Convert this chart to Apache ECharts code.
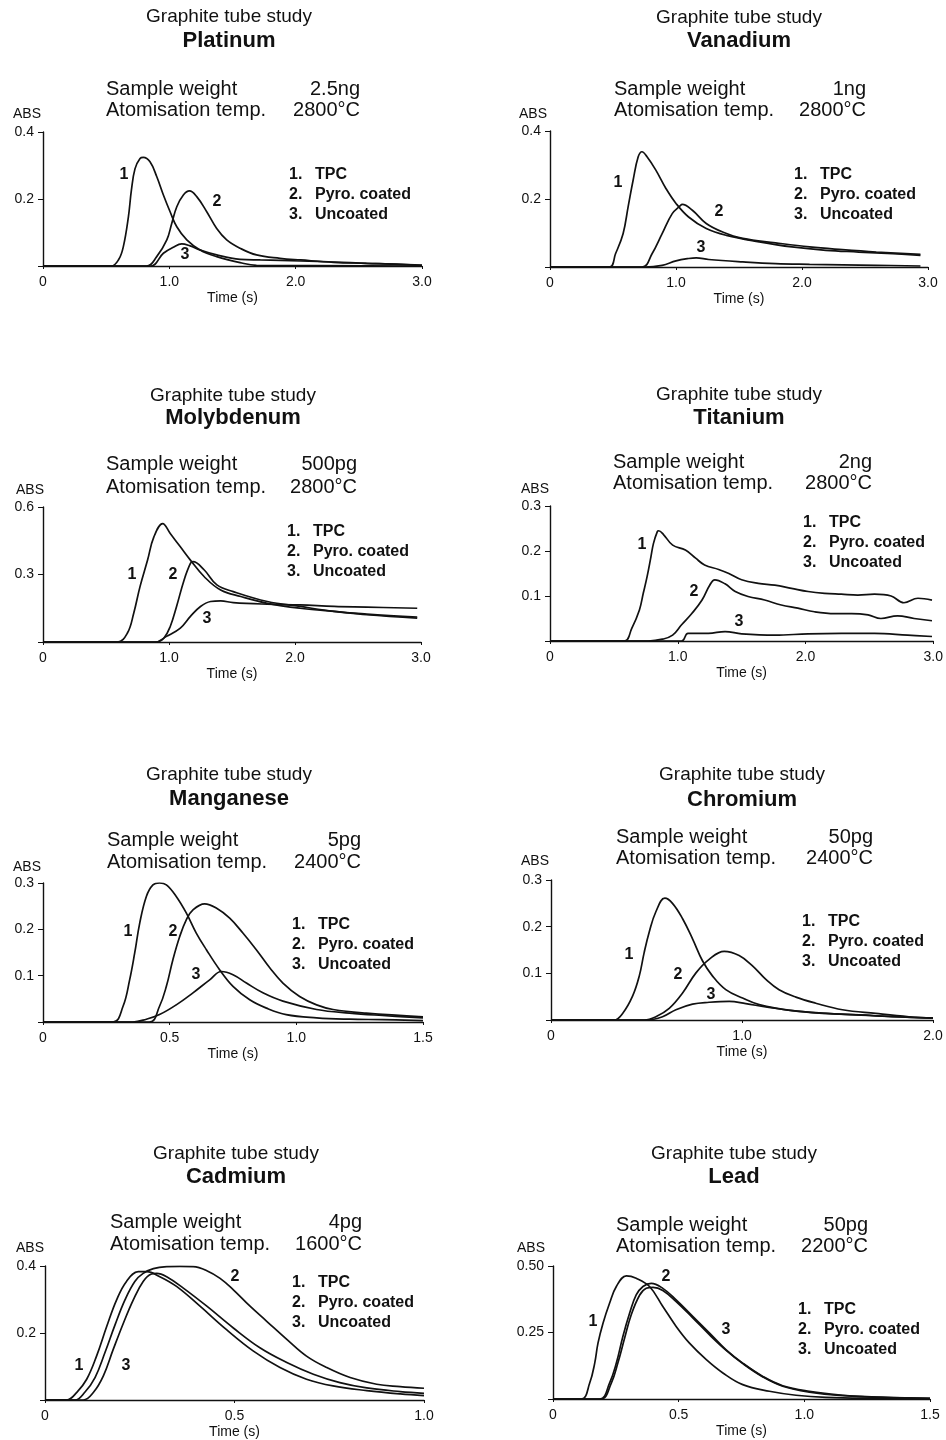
<!DOCTYPE html>
<html>
<head>
<meta charset="utf-8">
<script src="https://cdn.jsdelivr.net/npm/echarts/dist/echarts.min.js"></script>
<style>
html, body { margin: 0; padding: 0; background: #fff; }
#chart { width: 946px; height: 1440px; }
</style>
</head>
<body>
<div id="chart"></div>
<script>
var elements = ['Platinum', 'Vanadium', 'Molybdenum', 'Titanium', 'Manganese', 'Chromium', 'Cadmium', 'Lead'];
var weights = ['2.5ng', '1ng', '500pg', '2ng', '5pg', '50pg', '4pg', '50pg'];
var temps = ['2800°C', '2800°C', '2800°C', '2800°C', '2400°C', '2400°C', '1600°C', '2200°C'];
var legendLabels = ['TPC', 'Pyro. coated', 'Uncoated'];
var xMax = [3, 3, 3, 3, 1.5, 2, 1, 1.5];
var xStep = [1, 1, 1, 1, 0.5, 1, 0.5, 0.5];
var yMax = [0.4, 0.4, 0.6, 0.3, 0.3, 0.3, 0.4, 0.5];
var yStep = [0.2, 0.2, 0.3, 0.1, 0.1, 0.1, 0.2, 0.25];
var yDigits = [1, 1, 1, 1, 1, 1, 1, 2];

// Platinum
var ptTpc = [[0,0],[0.54,0],[0.6,0.02],[0.636,0.058],[0.676,0.147],[0.70,0.227],[0.728,0.29],[0.768,0.321],[0.794,0.324],[0.847,0.311],[0.90,0.267],[0.953,0.212],[1.006,0.162],[1.059,0.117],[1.138,0.078],[1.243,0.048],[1.375,0.028],[1.56,0.01],[1.69,0.002],[3.0,0]];
var ptPyro = [[0,0],[0.82,0],[0.90,0.028],[0.98,0.078],[1.019,0.127],[1.059,0.177],[1.111,0.212],[1.159,0.224],[1.217,0.207],[1.296,0.162],[1.375,0.112],[1.454,0.078],[1.56,0.053],[1.69,0.033],[1.876,0.023],[2.04,0.018],[2.30,0.011],[2.56,0.008],[2.83,0.005],[3.0,0.001]];
var ptUnc = [[0,0],[0.85,0],[0.953,0.038],[1.032,0.056],[1.098,0.066],[1.164,0.06],[1.243,0.048],[1.375,0.033],[1.56,0.02],[1.72,0.018],[2.04,0.015],[2.30,0.012],[2.56,0.008],[3.0,0.003]];

// Vanadium
var vTpc = [[0,0],[0.47,0],[0.52,0.039],[0.58,0.098],[0.62,0.177],[0.66,0.256],[0.70,0.324],[0.73,0.339],[0.77,0.324],[0.84,0.285],[0.92,0.231],[1.0,0.187],[1.10,0.147],[1.24,0.113],[1.40,0.093],[1.66,0.074],[1.92,0.059],[2.19,0.049],[2.45,0.044],[2.72,0.039],[2.94,0.034]];
var vPyro = [[0,0],[0.73,0],[0.81,0.039],[0.89,0.098],[0.97,0.157],[1.03,0.179],[1.05,0.184],[1.13,0.167],[1.24,0.128],[1.37,0.103],[1.53,0.084],[1.79,0.071],[2.06,0.059],[2.32,0.051],[2.59,0.044],[2.94,0.037]];
var vUnc = [[0,0],[0.75,0],[0.89,0.005],[1.0,0.018],[1.10,0.025],[1.16,0.027],[1.26,0.022],[1.53,0.015],[1.79,0.01],[2.06,0.008],[2.59,0.005],[2.94,0.003]];

// Molybdenum
var moTpc = [[0,0],[0.59,0],[0.67,0.04],[0.72,0.128],[0.77,0.246],[0.83,0.364],[0.88,0.467],[0.95,0.526],[1.01,0.482],[1.09,0.423],[1.17,0.364],[1.28,0.29],[1.41,0.231],[1.57,0.202],[1.78,0.172],[2.04,0.15],[2.31,0.136],[2.57,0.121],[2.97,0.106]];
var moPyro = [[0,0],[0.90,0],[0.96,0.018],[1.01,0.069],[1.06,0.158],[1.12,0.276],[1.17,0.349],[1.19,0.357],[1.28,0.32],[1.38,0.254],[1.51,0.224],[1.78,0.18],[2.04,0.158],[2.31,0.136],[2.57,0.124],[2.97,0.111]];
var moUnc = [[0,0],[0.89,0],[0.98,0.025],[1.09,0.062],[1.17,0.114],[1.25,0.158],[1.33,0.18],[1.41,0.183],[1.51,0.175],[1.78,0.168],[2.04,0.165],[2.31,0.158],[2.57,0.155],[2.97,0.15]];

// Titanium
var tiTpc = [[0,0],[0.58,0],[0.64,0.028],[0.70,0.069],[0.73,0.106],[0.76,0.143],[0.79,0.187],[0.81,0.217],[0.84,0.243],[0.85,0.245],[0.89,0.236],[0.96,0.213],[1.06,0.202],[1.14,0.184],[1.21,0.169],[1.32,0.159],[1.40,0.15],[1.50,0.136],[1.63,0.128],[1.76,0.124],[1.89,0.117],[2.02,0.11],[2.15,0.106],[2.28,0.104],[2.41,0.102],[2.54,0.104],[2.67,0.10],[2.77,0.085],[2.88,0.095],[2.99,0.091]];
var tiPyro = [[0,0],[0.77,0],[0.88,0.004],[0.96,0.013],[1.03,0.036],[1.11,0.061],[1.19,0.091],[1.25,0.124],[1.29,0.136],[1.37,0.127],[1.45,0.11],[1.55,0.099],[1.68,0.091],[1.81,0.08],[1.94,0.073],[2.07,0.065],[2.23,0.061],[2.36,0.061],[2.49,0.058],[2.59,0.05],[2.72,0.056],[2.85,0.05],[2.99,0.045]];
var tiUnc = [[0,0],[1.03,0],[1.08,0.017],[1.24,0.017],[1.37,0.021],[1.50,0.016],[1.76,0.013],[2.02,0.016],[2.28,0.017],[2.54,0.017],[2.80,0.013],[2.99,0.01]];

// Manganese
var mnTpc = [[0,0],[0.276,0],[0.316,0.034],[0.342,0.091],[0.362,0.149],[0.382,0.214],[0.408,0.271],[0.434,0.296],[0.46,0.30],[0.487,0.296],[0.526,0.271],[0.566,0.235],[0.605,0.192],[0.645,0.156],[0.697,0.113],[0.75,0.077],[0.816,0.048],[0.882,0.030],[0.96,0.016],[1.08,0.009],[1.21,0.006],[1.34,0.005],[1.5,0.003]];
var mnPyro = [[0,0],[0.42,0],[0.46,0.034],[0.487,0.077],[0.513,0.135],[0.54,0.185],[0.566,0.221],[0.592,0.242],[0.638,0.255],[0.684,0.246],[0.737,0.224],[0.789,0.192],[0.842,0.156],[0.895,0.117],[0.947,0.084],[1.013,0.055],[1.08,0.037],[1.145,0.027],[1.276,0.019],[1.5,0.011]];
var mnUnc = [[0,0],[0.355,0],[0.408,0.006],[0.46,0.016],[0.526,0.037],[0.592,0.063],[0.658,0.091],[0.704,0.109],[0.75,0.102],[0.803,0.084],[0.868,0.063],[0.947,0.045],[1.08,0.027],[1.21,0.019],[1.34,0.014],[1.5,0.009]];

// Chromium
var crTpc = [[0,0],[0.33,0],[0.375,0.014],[0.427,0.051],[0.462,0.094],[0.488,0.145],[0.514,0.188],[0.549,0.232],[0.596,0.261],[0.636,0.25],[0.689,0.217],[0.741,0.174],[0.793,0.127],[0.846,0.094],[0.915,0.065],[1.003,0.047],[1.09,0.033],[1.264,0.02],[1.439,0.014],[1.613,0.011],[1.787,0.007],[2.0,0.004]];
var crPyro = [[0,0],[0.488,0],[0.549,0.007],[0.619,0.025],[0.689,0.058],[0.759,0.101],[0.828,0.13],[0.907,0.147],[0.985,0.138],[1.055,0.116],[1.125,0.087],[1.194,0.065],[1.282,0.049],[1.386,0.036],[1.526,0.022],[1.70,0.014],[1.874,0.007],[2.0,0.004]];
var crUnc = [[0,0],[0.5,0],[0.584,0.007],[0.654,0.022],[0.741,0.034],[0.828,0.038],[0.933,0.04],[1.02,0.035],[1.125,0.028],[1.264,0.02],[1.439,0.014],[1.70,0.009],[2.0,0.004]];

// Cadmium
var cdTpc = [[0,0],[0.057,0],[0.084,0.023],[0.11,0.062],[0.136,0.131],[0.163,0.22],[0.189,0.299],[0.215,0.354],[0.246,0.383],[0.268,0.383],[0.303,0.368],[0.347,0.339],[0.409,0.28],[0.479,0.21],[0.55,0.146],[0.62,0.097],[0.69,0.062],[0.76,0.042],[0.849,0.028],[0.937,0.018],[1.0,0.013]];
var cdPyro = [[0,0],[0.079,0],[0.105,0.023],[0.132,0.067],[0.158,0.141],[0.185,0.225],[0.211,0.299],[0.237,0.354],[0.259,0.378],[0.286,0.392],[0.321,0.398],[0.356,0.399],[0.391,0.398],[0.427,0.386],[0.462,0.363],[0.497,0.329],[0.541,0.28],[0.585,0.235],[0.638,0.181],[0.69,0.131],[0.743,0.097],[0.805,0.067],[0.875,0.047],[0.937,0.04],[1.0,0.035]];
var cdUnc = [[0,0],[0.101,0],[0.128,0.023],[0.154,0.072],[0.18,0.151],[0.207,0.23],[0.233,0.299],[0.259,0.354],[0.281,0.376],[0.295,0.378],[0.321,0.368],[0.365,0.334],[0.427,0.28],[0.497,0.215],[0.567,0.156],[0.638,0.112],[0.708,0.077],[0.778,0.052],[0.849,0.036],[0.937,0.025],[1.0,0.02]];

// Lead
var pbTpc = [[0,0],[0.113,0],[0.146,0.06],[0.166,0.135],[0.179,0.21],[0.199,0.285],[0.225,0.36],[0.252,0.423],[0.292,0.463],[0.331,0.454],[0.384,0.423],[0.437,0.348],[0.49,0.273],[0.543,0.21],[0.61,0.148],[0.676,0.098],[0.755,0.054],[0.861,0.029],[0.967,0.014],[1.086,0.006],[1.285,0.0025],[1.5,0.001]];
var pbPyro = [[0,0],[0.186,0],[0.225,0.06],[0.252,0.135],[0.278,0.235],[0.305,0.323],[0.331,0.391],[0.358,0.423],[0.391,0.435],[0.437,0.416],[0.49,0.373],[0.557,0.31],[0.623,0.248],[0.689,0.185],[0.755,0.135],[0.835,0.085],[0.914,0.05],[1.02,0.029],[1.153,0.014],[1.285,0.006],[1.5,0.0025]];
var pbUnc = [[0,0],[0.19,0],[0.232,0.06],[0.258,0.135],[0.285,0.229],[0.311,0.316],[0.345,0.391],[0.371,0.416],[0.398,0.42],[0.437,0.408],[0.49,0.366],[0.557,0.304],[0.623,0.241],[0.689,0.183],[0.755,0.133],[0.835,0.083],[0.914,0.048],[1.02,0.026],[1.153,0.0125],[1.5,0.0025]];

var curves = [
    [ptTpc, ptPyro, ptUnc],
    [vTpc, vPyro, vUnc],
    [moTpc, moPyro, moUnc],
    [tiTpc, tiPyro, tiUnc],
    [mnTpc, mnPyro, mnUnc],
    [crTpc, crPyro, crUnc],
    [cdTpc, cdPyro, cdUnc],
    [pbTpc, pbPyro, pbUnc]
];

// page layout of each panel (pixels)
var layout = [
    {g: [43, 132, 379, 134], cx: 229, ty: 17, ny: 41, sx: 106, sr: 360, sy: 89, ay: 110, bx: 27, by: 114, lx: 289, ly: 175, tags: [[124, 175], [217, 202], [185, 255]]},
    {g: [550, 131, 378, 136], cx: 739, ty: 18, ny: 41, sx: 614, sr: 866, sy: 89, ay: 110, bx: 533, by: 114, lx: 794, ly: 175, tags: [[618, 183], [719, 212], [701, 248]]},
    {g: [43, 507, 378, 135], cx: 233, ty: 396, ny: 418, sx: 106, sr: 357, sy: 464, ay: 487, bx: 30, by: 490, lx: 287, ly: 532, tags: [[132, 575], [173, 575], [207, 619]]},
    {g: [550, 506, 385, 135], cx: 739, ty: 395, ny: 418, sx: 613, sr: 872, sy: 462, ay: 483, bx: 535, by: 489, lx: 803, ly: 523, tags: [[642, 545], [694, 592], [739, 622]]},
    {g: [43, 883, 380, 139], cx: 229, ty: 775, ny: 799, sx: 107, sr: 361, sy: 840, ay: 862, bx: 27, by: 867, lx: 292, ly: 925, tags: [[128, 932], [173, 932], [196, 975]]},
    {g: [551, 880, 382, 140], cx: 742, ty: 775, ny: 800, sx: 616, sr: 873, sy: 837, ay: 858, bx: 535, by: 861, lx: 802, ly: 922, tags: [[629, 955], [678, 975], [711, 995]]},
    {g: [45, 1266, 379, 135], cx: 236, ty: 1154, ny: 1177, sx: 110, sr: 362, sy: 1222, ay: 1244, bx: 30, by: 1248, lx: 292, ly: 1283, tags: [[79, 1366], [235, 1277], [126, 1366]]},
    {g: [553, 1266, 377, 133], cx: 734, ty: 1154, ny: 1177, sx: 616, sr: 868, sy: 1225, ay: 1246, bx: 531, by: 1248, lx: 798, ly: 1310, tags: [[593, 1322], [666, 1277], [726, 1330]]}
];

var FONT = "'Liberation Sans', Arial, Helvetica, sans-serif";

function txt(x, y, s, size, weight, align) {
    return {
        type: 'text', x: x, y: y, silent: true,
        style: {
            text: s, fill: '#111',
            font: (weight || 'normal') + ' ' + size + 'px ' + FONT,
            align: align || 'left', textAlign: align || 'left',
            verticalAlign: 'middle', textVerticalAlign: 'middle'
        }
    };
}

var grids = [], xAxes = [], yAxes = [], series = [], graphics = [];

layout.forEach(function (p, i) {
    grids.push({left: p.g[0], top: p.g[1], width: p.g[2], height: p.g[3]});
    xAxes.push({
        type: 'value', gridIndex: i, min: 0, max: xMax[i], interval: xStep[i],
        splitLine: {show: false},
        axisLine: {lineStyle: {color: '#111', width: 1.4}},
        axisTick: {show: true, length: 3, lineStyle: {color: '#111'}},
        axisLabel: {
            color: '#111', fontSize: 14, fontFamily: FONT, margin: 9, showMaxLabel: true,
            formatter: function (v) { return v === 0 ? '0' : v.toFixed(1); }
        },
        name: 'Time (s)', nameLocation: 'middle', nameGap: 25,
        nameTextStyle: {color: '#111', fontSize: 14, fontFamily: FONT}
    });
    yAxes.push({
        type: 'value', gridIndex: i, min: 0, max: yMax[i], interval: yStep[i],
        splitLine: {show: false},
        axisLine: {show: true, lineStyle: {color: '#111', width: 1.4}},
        axisTick: {show: true, length: 5, lineStyle: {color: '#111'}},
        axisLabel: {
            color: '#111', fontSize: 14, fontFamily: FONT, margin: 9,
            formatter: function (v) { return v === 0 ? '' : v.toFixed(yDigits[i]); }
        }
    });
    curves[i].forEach(function (d) {
        series.push({
            type: 'line', xAxisIndex: i, yAxisIndex: i, data: d,
            showSymbol: false, smooth: 0.4,
            lineStyle: {color: '#111', width: 1.7}
        });
    });

    graphics.push(txt(p.cx, p.ty, 'Graphite tube study', 19, 'normal', 'center'));
    graphics.push(txt(p.cx, p.ny, elements[i], 22, 'bold', 'center'));
    graphics.push(txt(p.sx, p.sy, 'Sample weight', 20));
    graphics.push(txt(p.sr, p.sy, weights[i], 20, 'normal', 'right'));
    graphics.push(txt(p.sx, p.ay, 'Atomisation temp.', 20));
    graphics.push(txt(p.sr, p.ay, temps[i], 20, 'normal', 'right'));
    graphics.push(txt(p.bx, p.by, 'ABS', 14, 'normal', 'center'));
    legendLabels.forEach(function (lab, k) {
        graphics.push(txt(p.lx, p.ly + 20 * k, (k + 1) + '.', 16, 'bold'));
        graphics.push(txt(p.lx + 26, p.ly + 20 * k, lab, 16, 'bold'));
    });
    p.tags.forEach(function (t, k) {
        graphics.push(txt(t[0], t[1], String(k + 1), 16, 'bold', 'center'));
    });
});

var myChart = echarts.init(document.getElementById('chart'));
myChart.setOption({
    animation: false,
    backgroundColor: '#fff',
    grid: grids,
    xAxis: xAxes,
    yAxis: yAxes,
    series: series,
    graphic: graphics
});
</script>
</body>
</html>
